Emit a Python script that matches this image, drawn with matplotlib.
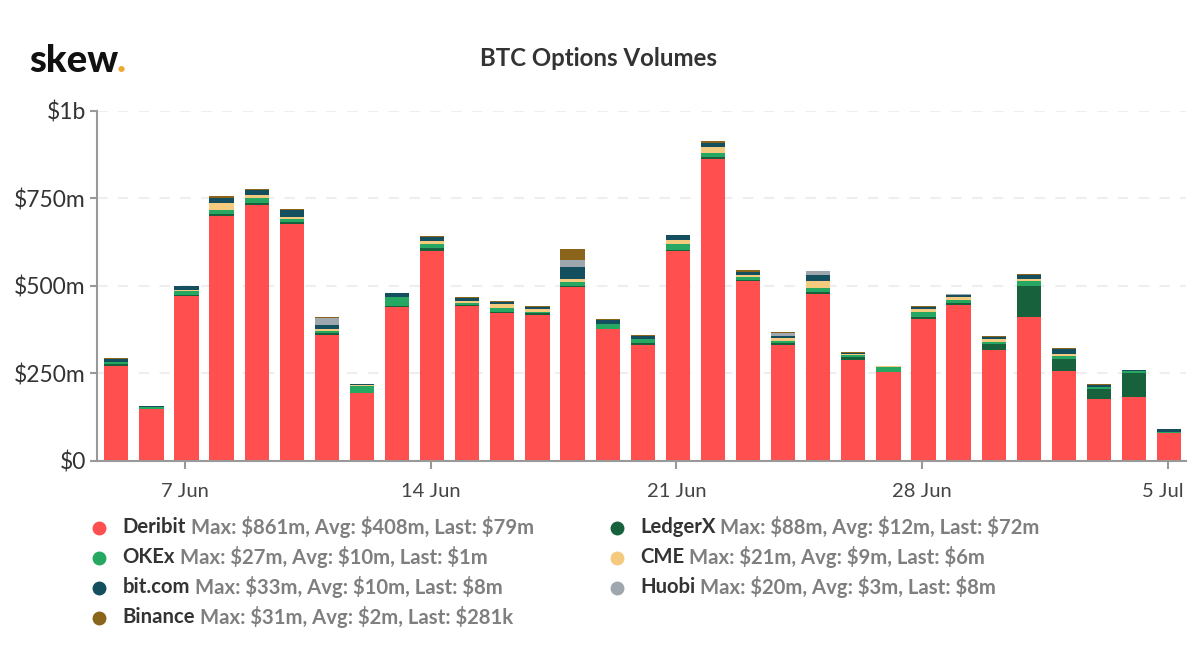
import numpy as np
import matplotlib.pyplot as plt
from matplotlib.transforms import ScaledTranslation

plt.rcParams['font.family'] = ['Lato', 'DejaVu Sans']

# daily volumes in $m, one list per venue, 5 Jun to 5 Jul
deribit = [272, 147, 470, 699, 730, 675, 360, 193, 440, 600, 442, 422, 417, 496, 375, 332,
           600, 861, 513, 332, 476, 288, 253, 404, 446, 316, 411, 255, 175, 181, 79]
ledgerx = [4, 0.5, 3, 6, 6, 6, 5, 1, 3, 9, 2, 2, 4, 3, 1, 3,
           3, 8, 4, 3, 5, 7, 1, 8, 5, 18, 88, 35, 29, 69, 1]
okex = [5, 5, 11, 10, 14, 9, 5, 20, 25, 9, 8, 13, 5, 13, 15, 12,
        15, 11, 8, 8, 12, 8, 15, 12, 9, 6, 14, 9, 6, 5, 1]
cme = [1, 0.5, 5, 21, 8, 6, 5, 1, 1, 9, 4, 11, 7, 8, 1, 1,
       12, 16, 6, 9, 21, 1, 0.5, 9, 8, 8, 7, 7, 1, 0.5, 0.5]
bitcom = [10, 2, 10, 15, 15, 21, 13, 3, 9, 11, 10, 5, 6, 33, 11, 9,
          14, 13, 9, 4, 18, 5, 0.5, 5, 6, 6, 10, 13, 6, 4, 8]
huobi = [0, 0, 0, 0, 1, 0, 20, 0, 0, 0, 0, 0, 1, 20, 0, 0,
         0, 0, 0, 8, 9, 0, 0, 0, 3, 0, 0, 0, 0, 0, 0]
binance = [1, 0.5, 1, 4, 1, 1, 2, 1, 2, 3, 2, 2, 1, 31, 1, 1,
           2, 4, 4, 4, 1, 1, 0, 3, 0, 3, 3, 2, 1, 0, 0.3]

series = [
    ('Deribit', deribit, '#FF4F4F'),
    ('LedgerX', ledgerx, '#17623D'),
    ('OKEx', okex, '#26A862'),
    ('CME', cme, '#F3CA7E'),
    ('bit.com', bitcom, '#144F5F'),
    ('Huobi', huobi, '#9EA6AE'),
    ('Binance', binance, '#8B641B'),
]

y_ticks = [0, 250, 500, 750, 1000]
y_labels = ['$0', '$250m', '$500m', '$750m', '$1b']
x_tick_days = [2, 9, 16, 23, 30]
x_labels = ['7 Jun', '14 Jun', '21 Jun', '28 Jun', '5 Jul']

# legend rows: name, stats, colour
legend_left = [
    ('Deribit', 'Max: $861m, Avg: $408m, Last: $79m', '#FF4F4F'),
    ('OKEx', 'Max: $27m, Avg: $10m, Last: $1m', '#26A862'),
    ('bit.com', 'Max: $33m, Avg: $10m, Last: $8m', '#144F5F'),
    ('Binance', 'Max: $31m, Avg: $2m, Last: $281k', '#8B641B'),
]
legend_right = [
    ('LedgerX', 'Max: $88m, Avg: $12m, Last: $72m', '#17623D'),
    ('CME', 'Max: $21m, Avg: $9m, Last: $6m', '#F3CA7E'),
    ('Huobi', 'Max: $20m, Avg: $3m, Last: $8m', '#9EA6AE'),
]

W, H = 1200, 670
fig = plt.figure(figsize=(12, 6.7), dpi=100)
ax = fig.add_axes([97 / W, 1 - 460.7 / H, (1186 - 97) / W, 350 / H])

days = np.arange(len(deribit))
bottom = np.zeros(len(deribit))
for name, values, color in series:
    ax.bar(days, values, width=0.69, bottom=bottom, color=color, edgecolor='none', zorder=3)
    bottom += np.array(values)

ax.set_xlim(-0.55, 30.48)
ax.set_ylim(0, 1000)

ax.set_yticks(y_ticks)
ax.set_yticklabels(y_labels, fontsize=16.5, color='#333333')
ax.set_xticks(np.array(x_tick_days) - 0.04)
ax.set_xticklabels(x_labels, fontsize=14.5, color='#444444')
ax.tick_params(axis='y', length=5, width=1.5, color='#999999', pad=3)
ax.tick_params(axis='x', length=6, width=1.5, color='#999999', pad=10)

# last date label is pushed left so it stays inside the plot
last = ax.get_xticklabels()[-1]
last.set_transform(last.get_transform() + ScaledTranslation(-5 / 100, 0, fig.dpi_scale_trans))

ax.grid(axis='y', color='#EEEEEE', linewidth=1.5, linestyle=(0, (5, 5)), zorder=0)
ax.set_axisbelow(True)
for side in ['top', 'right']:
    ax.spines[side].set_visible(False)
for side in ['left', 'bottom']:
    ax.spines[side].set_color('#999999')
    ax.spines[side].set_linewidth(1.5)
    ax.spines[side].set_zorder(4)

fig.text(599 / W, 1 - 59 / H, 'BTC Options Volumes', fontsize=17.3, fontweight='bold',
         color='#333333', ha='center', va='center')

# logo, the dot goes right after the word
renderer = fig.canvas.get_renderer()
logo = fig.text(29 / W, 1 - 71.5 / H, 'skew', fontsize=27.5, fontweight=900, color='#111111',
                ha='left', va='baseline')
end = logo.get_window_extent(renderer).x1
fig.text((end - 2) / W, 1 - 71.5 / H, '.', fontsize=27.5, fontweight=900, color='#F0A830',
         ha='left', va='baseline')


def draw_legend(rows, x_marker, x_text):
    for i, (name, stats, color) in enumerate(rows):
        y = 1 - (527 + 30 * i) / H
        fig.add_artist(plt.Line2D([x_marker / W], [y - 1 / H], marker='o', markersize=9, color=color,
                                  linestyle='none', transform=fig.transFigure))
        t = fig.text(x_text / W, y, name, fontsize=14.6, fontweight='bold', color='#333333',
                     ha='left', va='center')
        x1 = t.get_window_extent(renderer).x1
        fig.text((x1 + 5) / W, y, stats, fontsize=14.6, fontweight='bold', color='#7F7F7F',
                 ha='left', va='center')


draw_legend(legend_left, 99, 122.5)
draw_legend(legend_right, 617, 640)

fig.savefig('out.png', dpi=100, facecolor='white')
